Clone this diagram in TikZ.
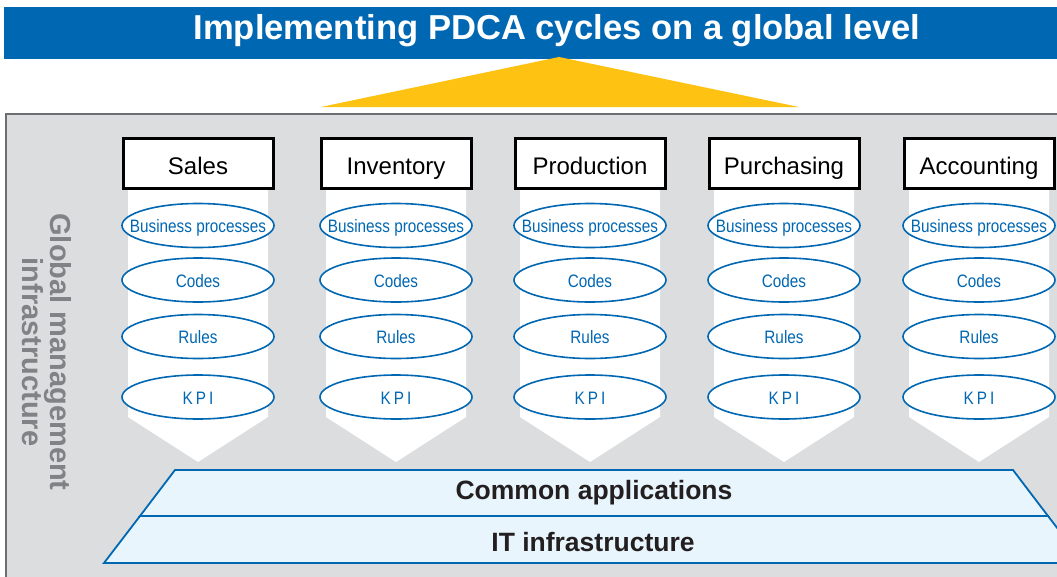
\documentclass[tikz,border=0pt]{standalone}
\usepackage{fontspec}
\setmainfont{Liberation Sans}
\newfontfamily\condfont[FakeStretch=0.85]{Liberation Sans}
\usetikzlibrary{shapes.geometric}
\definecolor{titleblue}{RGB}{0,103,178}
\definecolor{pdcayellow}{RGB}{253,194,18}
\definecolor{panelgray}{RGB}{220,221,222}
\definecolor{paneledge}{RGB}{109,110,113}
\definecolor{sidegray}{RGB}{128,130,133}
\definecolor{layerfill}{RGB}{232,245,252}
\definecolor{darktext}{RGB}{35,31,32}
\newcommand{\itemtext}[1]{\makebox[0pt][c]{#1}}
\tikzset{
  header/.style={draw=black, line width=3pt, fill=white, minimum width=150pt, minimum height=50pt, inner sep=0pt, text height=21pt, text depth=0pt, font=\fontsize{24}{26}\selectfont},
  item/.style={draw=titleblue, line width=1.6pt, fill=white, ellipse, minimum width=152pt, minimum height=44pt, inner sep=0pt, text height=14pt, text depth=0pt, text=titleblue, font=\condfont\fontsize{18}{20}\selectfont},
  layer/.style={fill=layerfill, draw=titleblue, line width=1.8pt, line join=miter},
  layertext/.style={text=darktext, font=\bfseries\fontsize{26.5}{28}\selectfont, inner sep=0pt}
}
\begin{document}
\begin{tikzpicture}[x=1pt, y=-1pt]
\useasboundingbox (0,0) rectangle (1057,576);
\clip (0,0) rectangle (1057,576);
% title bar
\fill[titleblue] (4,7) rectangle (1057,59);
\node[text=white, font=\bfseries\fontsize{34.6}{36}\selectfont] (title) at (557,31) {Implementing PDCA cycles on a global level};
% yellow triangle
\fill[pdcayellow] (321,107) -- (559,57) -- (799,107) -- cycle;
% gray panel
\fill[panelgray] (6,114) rectangle (1070,590);
\draw[paneledge, line width=1.8pt] (6,590) -- (6,114) -- (1070,114);
% side label
\node[rotate=-90, text=sidegray, align=center, font=\bfseries\fontsize{29}{28}\selectfont] (side) at (47,352) {Global management\\infrastructure};
% columns
\foreach \c/\name/\lab in {198/sales/Sales, 396/inventory/Inventory, 590/production/Production, 784/purchasing/Purchasing, 979/accounting/Accounting}{
  \fill[white] (\c-70,188) -- (\c+70,188) -- (\c+70,417) -- (\c,462) -- (\c-70,417) -- cycle;
  \node[header] (\name) at (\c,163.5) {\lab};
  \node[item] (\name-bp) at (\c,225.5) {\itemtext{Business processes}};
  \node[item] (\name-codes) at (\c,280) {\itemtext{Codes}};
  \node[item] (\name-rules) at (\c,336.5) {\itemtext{Rules}};
  \node[item] (\name-kpi) at (\c,397) {\itemtext{K\hspace{3pt}P\hspace{3pt}I}};
}
% layers
\draw[layer] (175,470) -- (1013,470) -- (1048,516) -- (140,516) -- cycle;
\draw[layer] (140,516) -- (1048,516) -- (1084,563) -- (104,563) -- cycle;
\node[layertext] (apps) at (594,493) {Common applications};
\node[layertext] (it) at (593,542) {IT infrastructure};
\end{tikzpicture}
\end{document}
